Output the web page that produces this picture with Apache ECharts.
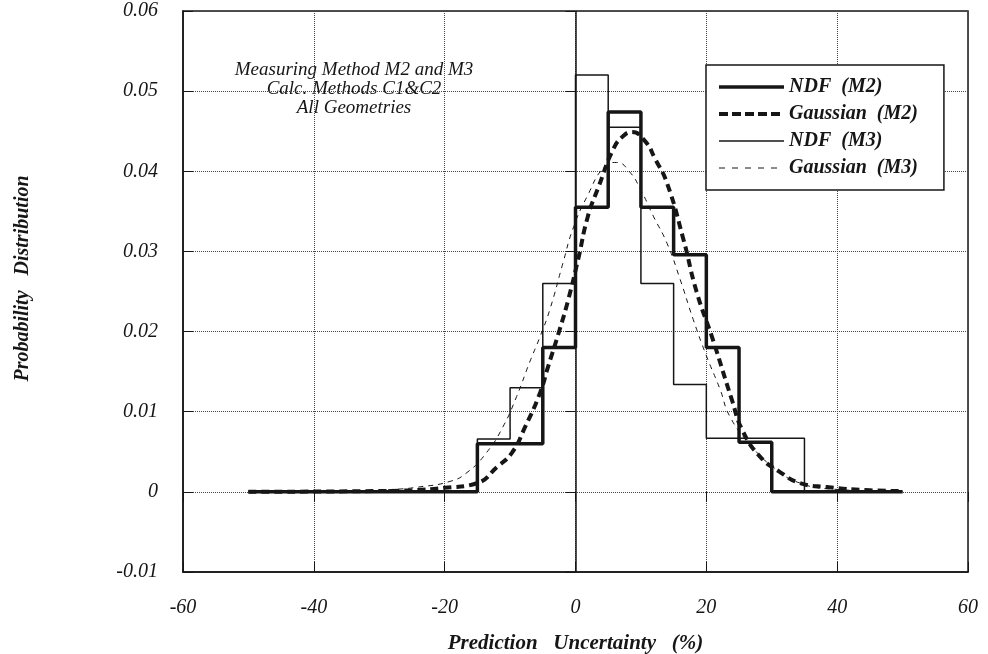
<!DOCTYPE html>
<html>
<head>
<meta charset="utf-8">
<title>Probability Distribution</title>
<script src="https://cdn.jsdelivr.net/npm/echarts@6/dist/echarts.min.js"></script>
<style>
  html, body { margin: 0; padding: 0; background: #fff; }
  #chart { width: 988px; height: 654px; }
</style>
</head>
<body>
<div id="chart"></div>
<script>
// histogram edges (%) - each value is held from its edge up to the next one
const binEdges = [-50, -15, -10, -5, 0, 5, 10, 15, 20, 25, 30, 35, 50]
const ndfM2 = [0, 0.006, 0.006, 0.018, 0.0355, 0.0474, 0.0355, 0.0296, 0.018, 0.0062, 0, 0, 0]
const ndfM3 = [0, 0.0066, 0.013, 0.026, 0.052, 0.0455, 0.026, 0.0134, 0.0067, 0.0067, 0.0067, 0, 0]

// fitted curves
const gaussM2X = [-50, -30, -25, -20, -15, -12, -9.7, -7.7, -5.4, -4.2, -2.4, -1.1, 0.4, 1.9, 3.5, 5.8, 7.3, 8.6, 10.6, 12.2, 14, 16.5, 18.5, 21, 23.9, 25.5, 28.2, 31.2, 34.3, 38.4, 45, 50]
const gaussM2Y = [0, 0.0001, 0.0002, 0.0005, 0.0011, 0.0031, 0.0049, 0.0081, 0.0124, 0.0156, 0.0203, 0.024, 0.029, 0.0344, 0.038, 0.0428, 0.0444, 0.0449, 0.0438, 0.0415, 0.0385, 0.0315, 0.025, 0.019, 0.0115, 0.0077, 0.0044, 0.0025, 0.0011, 0.0006, 0.0002, 0.0001]
const gaussM3X = [-50, -35, -28, -24, -19.2, -16.6, -13.6, -11.1, -9, -7, -5.4, -3.9, -1.9, -0.4, 1.8, 4.5, 6.3, 8.3, 9.9, 11.9, 14, 16, 18, 20, 22.1, 23.6, 26.7, 30.2, 34.3, 40, 50]
const gaussM3Y = [0, 0.0001, 0.0003, 0.0006, 0.0013, 0.0024, 0.0049, 0.0081, 0.0119, 0.0162, 0.0194, 0.0228, 0.0286, 0.0328, 0.0369, 0.0406, 0.0411, 0.0399, 0.0378, 0.0344, 0.031, 0.0265, 0.0215, 0.017, 0.0128, 0.0094, 0.0059, 0.0031, 0.0011, 0.0003, 0]

const seriesNames = ['NDF  (M2)', 'Gaussian  (M2)', 'NDF  (M3)', 'Gaussian  (M3)']
const noteLines = ['Measuring Method M2 and M3', 'Calc. Methods C1&C2', 'All Geometries']

const zip = (xs, ys) => xs.map((x, i) => [x, ys[i]])

const serif = 'Liberation Serif'
const ink = '#161616'

const chart = echarts.init(document.getElementById('chart'))

const axisCommonX = {
  type: 'value',
  min: -60,
  max: 60,
  interval: 20
}
const axisCommonY = {
  type: 'value',
  min: -0.01,
  max: 0.06,
  interval: 0.01
}

chart.setOption({
  backgroundColor: '#fff',
  animation: false,
  grid: {
    left: 183,
    right: 20,
    top: 11,
    bottom: 82,
    outerBoundsMode: 'none',
    show: true,
    borderColor: ink,
    borderWidth: 1.5
  },
  xAxis: [{
    ...axisCommonX,
    position: 'bottom',
    axisLine: { show: true, onZero: false, lineStyle: { color: ink, width: 1.5 } },
    axisTick: { show: true, inside: true, length: 10, lineStyle: { color: ink } },
    axisLabel: {
      margin: 26,
      fontFamily: serif,
      fontStyle: 'italic',
      fontSize: 20,
      color: ink
    },
    splitLine: { show: true, lineStyle: { type: 'dotted', color: '#444', width: 1 } },
    name: 'Prediction   Uncertainty   (%)',
    nameLocation: 'middle',
    nameGap: 61,
    nameTextStyle: {
      fontFamily: serif,
      fontStyle: 'italic',
      fontWeight: 'bold',
      fontSize: 21,
      color: ink
    }
  }, {
    ...axisCommonX,
    position: 'top',
    axisLine: { show: false },
    axisTick: { show: true, inside: true, length: 10, lineStyle: { color: ink } },
    axisLabel: { show: false },
    splitLine: { show: false }
  }],
  yAxis: [{
    ...axisCommonY,
    position: 'left',
    axisLine: { show: true, onZero: false, lineStyle: { color: ink, width: 1.5 } },
    axisTick: { show: true, inside: true, length: 10, lineStyle: { color: ink } },
    axisLabel: {
      margin: 25,
      fontFamily: serif,
      fontStyle: 'italic',
      fontSize: 20,
      color: ink,
      formatter: function(v) {
        return v === 0 ? '0' : v.toFixed(2)
      }
    },
    splitLine: { show: true, lineStyle: { type: 'dotted', color: '#444', width: 1 } },
    name: 'Probability   Distribution',
    nameLocation: 'middle',
    nameGap: 150,
    nameTextStyle: {
      fontFamily: serif,
      fontStyle: 'italic',
      fontWeight: 'bold',
      fontSize: 20,
      color: ink,
      padding: [0, 0, 0, 26]
    }
  }, {
    ...axisCommonY,
    position: 'right',
    axisLine: { show: false },
    axisTick: { show: true, inside: true, length: 10, lineStyle: { color: ink } },
    axisLabel: { show: false },
    splitLine: { show: false }
  }],
  legend: {
    left: 706,
    top: 65,
    orient: 'vertical',
    padding: [12, 26, 12, 11],
    itemWidth: 65,
    itemHeight: 14,
    itemGap: 7,
    backgroundColor: '#fff',
    borderColor: ink,
    borderWidth: 1.5,
    borderRadius: 0,
    itemStyle: { opacity: 0 },
    textStyle: {
      fontFamily: serif,
      fontStyle: 'italic',
      fontWeight: 'bold',
      fontSize: 20,
      color: ink
    },
    data: [
      { name: seriesNames[0], lineStyle: { width: 3.5 } },
      { name: seriesNames[1], lineStyle: { width: 4, type: [9, 4] } },
      { name: seriesNames[2], lineStyle: { width: 1.5 } },
      { name: seriesNames[3], lineStyle: { width: 1, type: [6, 7] } }
    ]
  },
  graphic: noteLines.map((t, i) => ({
    type: 'text',
    x: 354,
    y: 70 + i * 19,
    silent: true,
    style: {
      text: t,
      align: 'center',
      verticalAlign: 'middle',
      fontFamily: serif,
      fontStyle: 'italic',
      fontSize: 19,
      fill: ink
    }
  })),
  series: [
    {
      name: seriesNames[2],
      type: 'line',
      step: 'end',
      symbol: 'none',
      lineStyle: { color: ink, width: 1.5 },
      itemStyle: { color: ink },
      data: zip(binEdges, ndfM3),
      markLine: {
        silent: true,
        symbol: 'none',
        label: { show: false },
        lineStyle: { color: ink, width: 1.5, type: 'solid' },
        data: [{ xAxis: 0 }]
      }
    },
    {
      name: seriesNames[3],
      type: 'line',
      smooth: true,
      symbol: 'none',
      lineStyle: { color: ink, width: 1, type: [5, 5] },
      itemStyle: { color: ink },
      data: zip(gaussM3X, gaussM3Y)
    },
    {
      name: seriesNames[0],
      type: 'line',
      step: 'end',
      symbol: 'none',
      lineStyle: { color: ink, width: 3.5 },
      itemStyle: { color: ink },
      data: zip(binEdges, ndfM2)
    },
    {
      name: seriesNames[1],
      type: 'line',
      smooth: true,
      symbol: 'none',
      lineStyle: { color: ink, width: 4, type: [8, 5] },
      itemStyle: { color: ink },
      data: zip(gaussM2X, gaussM2Y)
    }
  ]
})
</script>
</body>
</html>
